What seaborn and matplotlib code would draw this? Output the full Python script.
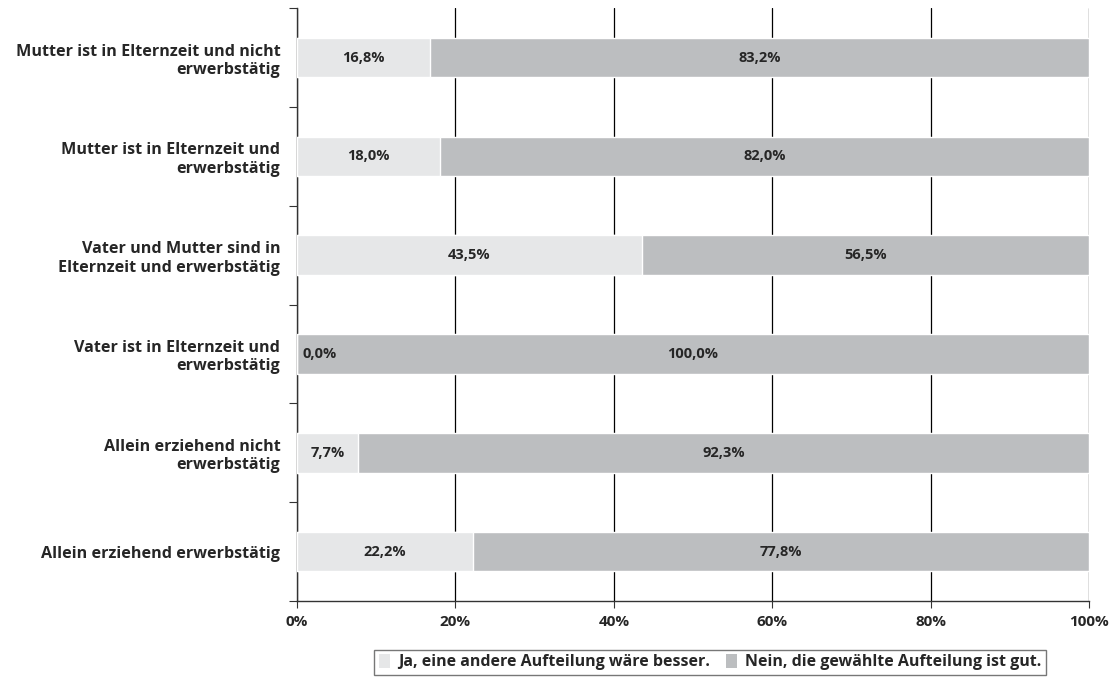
import numpy as np
import pandas as pd
import seaborn as sns
import matplotlib.pyplot as plt
from matplotlib.patches import Patch
from matplotlib.ticker import FixedLocator

# data
categories = ['Mutter ist in Elternzeit und nicht\nerwerbstätig',
              'Mutter ist in Elternzeit und\nerwerbstätig',
              'Vater und Mutter sind in\nElternzeit und erwerbstätig',
              'Vater ist in Elternzeit und\nerwerbstätig',
              'Allein erziehend nicht\nerwerbstätig',
              'Allein erziehend erwerbstätig']
ja = [16.8, 18.0, 43.5, 0.0, 7.7, 22.2]
nein = [83.2, 82.0, 56.5, 100.0, 92.3, 77.8]
series_names = ['Ja, eine andere Aufteilung wäre besser.',
                'Nein, die gewählte Aufteilung ist gut.']
x_ticks = [0, 20, 40, 60, 80, 100]

light = '#e6e7e8'
dark = '#bcbec0'

sns.set_style('white')
plt.rcParams['font.family'] = ['Open Sans', 'DejaVu Sans']
plt.rcParams['font.weight'] = 'bold'

df = pd.DataFrame({'cat': categories, 'ja': ja, 'nein': nein})
df['total'] = df['ja'] + df['nein']

fig = plt.figure(figsize=(11.15, 6.78), dpi=100)
ax = fig.add_axes([0.2664, 0.1136, 0.9767 - 0.2664, 0.988 - 0.1136])

# stacked: draw total in dark, then the "ja" part in light on top
sns.barplot(data=df, x='total', y='cat', color=dark, width=0.4, saturation=1,
            ax=ax, orient='h', zorder=3)
sns.barplot(data=df, x='ja', y='cat', color=light, width=0.4, saturation=1,
            ax=ax, orient='h', zorder=3)

for i, row in df.iterrows():
    xj = max(row['ja'] / 2, 2.9)
    ax.text(xj, i, f"{row['ja']:.1f}%".replace('.', ','), ha='center', va='center',
            fontsize=10.5, fontweight='bold', zorder=4)
    xn = row['ja'] + row['nein'] / 2
    ax.text(xn, i, f"{row['nein']:.1f}%".replace('.', ','), ha='center', va='center',
            fontsize=10.5, fontweight='bold', zorder=4)

ax.set_xlim(0, 100)
ax.set_ylim(len(categories) - 0.5, -0.5)
ax.set_xticks(x_ticks)
ax.set_xticklabels([f'{t}%' for t in x_ticks], fontsize=11, fontweight='bold')
ax.set_yticklabels(categories, fontsize=11.6, fontweight='bold', ha='right')
ax.yaxis.set_minor_locator(FixedLocator(np.arange(-0.5, len(categories), 1)))
ax.tick_params(axis='y', which='major', length=0, pad=12)
ax.tick_params(axis='y', which='minor', length=6, width=0.8, color='#333333', direction='out', left=True)
ax.tick_params(axis='x', which='major', length=5, width=0.8, color='#333333', direction='out', bottom=True, pad=5)
ax.set_xlabel('')
ax.set_ylabel('')
ax.grid(axis='x', color='black', linewidth=0.9, zorder=0)
ax.set_axisbelow(True)

for s in ['top', 'right']:
    ax.spines[s].set_visible(False)
for s in ['left', 'bottom']:
    ax.spines[s].set_color('#333333')
    ax.spines[s].set_linewidth(1.0)

handles = [Patch(facecolor=light, edgecolor='none', label=series_names[0]),
           Patch(facecolor=dark, edgecolor='none', label=series_names[1])]
leg = fig.legend(handles=handles, loc='upper center', bbox_to_anchor=(0.637, 0.042),
                 ncol=2, frameon=True, fancybox=False, borderaxespad=0,
                 handlelength=0.7, handleheight=0.9, handletextpad=0.5,
                 columnspacing=1.0, borderpad=0.3, prop={'weight': 'bold', 'size': 11.5})
leg.get_frame().set_edgecolor('#555555')
leg.get_frame().set_linewidth(1.0)

fig.savefig('out.png', dpi=100)
